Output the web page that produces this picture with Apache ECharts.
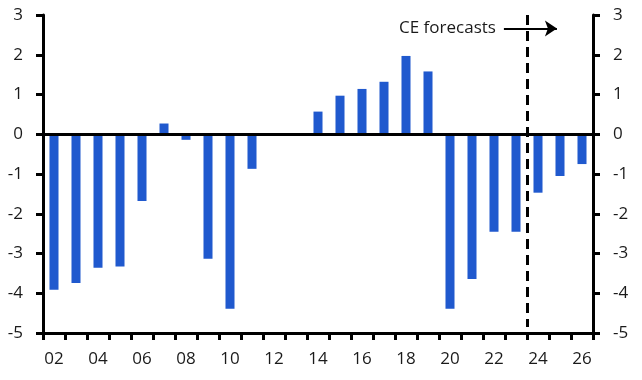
<!DOCTYPE html>
<html><head><meta charset="utf-8">
<script src="https://cdn.jsdelivr.net/npm/echarts@6/dist/echarts.min.js"></script>
<style>html,body{margin:0;padding:0;background:#fff}#c{width:642px;height:380px}</style>
</head><body><div id="c"></div>
<script>
const years = ['02','03','04','05','06','07','08','09','10','11','12','13','14','15','16','17','18','19','20','21','22','23','24','25','26'];
const values = [-3.91,-3.74,-3.36,-3.33,-1.68,0.27,-0.14,-3.13,-4.39,-0.87,0,0,0.57,0.97,1.14,1.32,1.97,1.58,-4.39,-3.64,-2.45,-2.45,-1.47,-1.05,-0.75];
const yTicks = [-5,-4,-3,-2,-1,0,1,2,3];
const forecastStart = 22; // boundary index between '23' and '24'
const annotationText = 'CE forecasts';

const font = 'Open Sans';
const fs = 17;
const chart = echarts.init(document.getElementById('c'));
const yAxisCommon = {
  type: 'value', min: yTicks[0], max: yTicks[yTicks.length-1], interval: 1,
  axisLine: {show: true, lineStyle: {color: '#000', width: 3}},
  axisTick: {show: true, length: 7, lineStyle: {color: '#000', width: 3}},
  splitLine: {show: false},
  axisLabel: {color: '#1a1a1a', fontSize: fs, fontFamily: font, margin: 20}
};
chart.setOption({
  animation: false,
  grid: {left: 43, right: 49, top: 15, bottom: 47, containLabel: false},
  xAxis: [{
    type: 'category', data: years, position: 'bottom',
    axisLine: {onZero: false, lineStyle: {color: '#000', width: 3}},
    axisTick: {show: true, interval: 0, alignWithLabel: false, length: 7, lineStyle: {color: '#000', width: 3}},
    axisLabel: {interval: 1, color: '#1a1a1a', fontSize: fs, fontFamily: font, margin: 18}
  }, {
    type: 'value', min: 0, max: years.length, show: false
  }],
  yAxis: [Object.assign({position: 'left'}, yAxisCommon), Object.assign({position: 'right'}, yAxisCommon)],
  series: [{
    type: 'bar', data: values, barWidth: '41%',
    itemStyle: {color: '#2059CE'},
    markLine: {
      silent: true, symbol: ['none','none'], z: 5,
      lineStyle: {color: '#000', width: 3, type: 'solid'},
      label: {show: false},
      data: [{yAxis: 0}]
    }
  }, {
    type: 'scatter', xAxisIndex: 1, yAxisIndex: 0, data: [],
    markLine: {
      silent: true, animation: false,
      data: [
        [{coord: [forecastStart, 3], symbol: 'none', lineStyle: {color: '#000', width: 3, type: [10, 6]}, label: {show: false}},
         {coord: [forecastStart, -4.85], symbol: 'none'}],
        [{coord: [20.95, 2.66], symbol: 'none', lineStyle: {color: '#000', width: 2, type: 'solid'},
          label: {show: true, position: 'start', formatter: annotationText, color: '#1a1a1a', fontSize: fs, fontFamily: font, distance: 8}},
         {coord: [23.36, 2.66], symbol: 'arrow', symbolSize: [12, 12]}]
      ]
    }
  }]
});
</script></body></html>
